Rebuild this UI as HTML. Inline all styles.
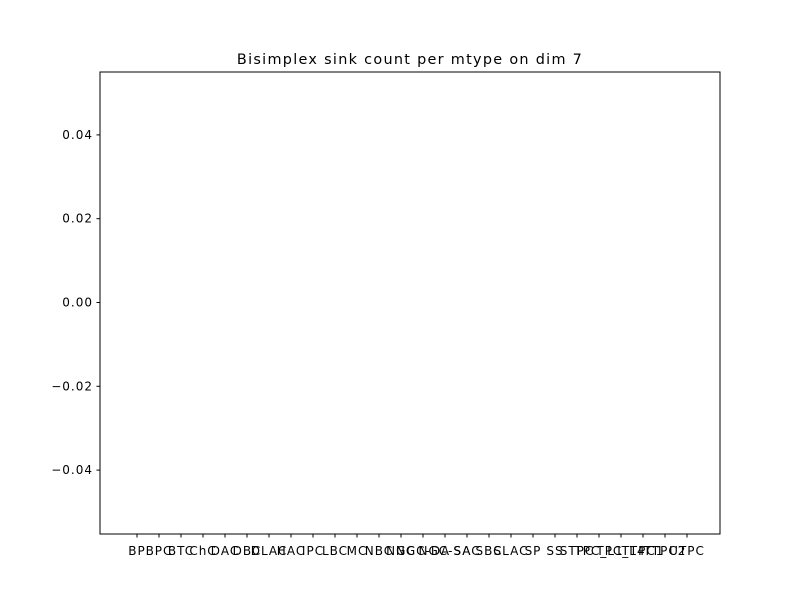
<!DOCTYPE html>
<html><head><meta charset="utf-8"><style>
body{margin:0;background:#fff;font-family:"DejaVu Sans","Liberation Sans",sans-serif}
text{font-family:"DejaVu Sans","Liberation Sans",sans-serif;font-size:12px;fill:#000;letter-spacing:1px}
</style></head><body>
<svg id="chart" width="800" height="600">
<rect width="800" height="600" fill="#fff"/>
<text x="410" y="64" text-anchor="middle" style="font-size:14.4px;letter-spacing:1.3px">Bisimplex sink count per mtype on dim 7</text>
<g id="yaxis"></g>
<g id="xaxis"></g>
<rect x="100" y="72" width="620" height="462" fill="none" stroke="#000" stroke-width="1"/>
</svg>
<script>
const categories=["BP","BPC","BTC","ChC","DAC","DBC","DLAC","HAC","IPC","LBC","MC","NBC","NGC","NGC-DA","NGC-SA","SAC","SBC","SLAC","SP","SS","STPC","TPC_L1","TPC_L4","TTPC1","TTPC2","UTPC"];
const values=[];
const yTicks=[-0.04,-0.02,0.00,0.02,0.04];
const yTickLabels=["−0.04","−0.02","0.00","0.02","0.04"];
const ns="http://www.w3.org/2000/svg";
function ys(v){return 302.5-v*4190;}
function xs(i){return 137+i*22;}
const ya=document.getElementById('yaxis'),xa=document.getElementById('xaxis');
yTicks.forEach((t,k)=>{
 const y=ys(t);
 const l=document.createElementNS(ns,'line');
 l.setAttribute('x1',96.5);l.setAttribute('x2',100);l.setAttribute('y1',y);l.setAttribute('y2',y);l.setAttribute('stroke','#000');
 
 
 ya.appendChild(l);
 const tx=document.createElementNS(ns,'text');
 tx.setAttribute('x',93);tx.setAttribute('y',y+4);tx.setAttribute('text-anchor','end');tx.textContent=yTickLabels[k];
 
 
 ya.appendChild(tx);
});
categories.forEach((c,i)=>{
 const x=xs(i);
 const l=document.createElementNS(ns,'line');
 l.setAttribute('x1',x);l.setAttribute('x2',x);l.setAttribute('y1',534);l.setAttribute('y2',537.5);l.setAttribute('stroke','#000');
 
 
 xa.appendChild(l);
 const tx=document.createElementNS(ns,'text');
 tx.setAttribute('x',x);tx.setAttribute('y',555);tx.setAttribute('text-anchor','middle');tx.textContent=c;
 
 
 xa.appendChild(tx);
});
</script>
</body></html>
